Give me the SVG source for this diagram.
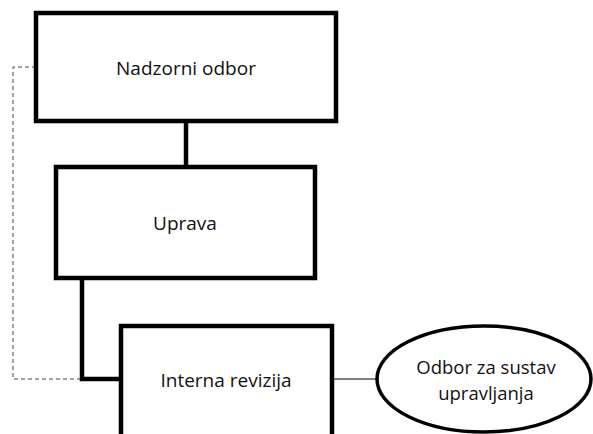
<svg xmlns="http://www.w3.org/2000/svg" width="593" height="434" viewBox="0 0 593 434">
<style>
.box{fill:#fff;stroke:#000;stroke-width:4.5}
.lbl{font-family:"Open Sans","Noto Sans",sans-serif;font-size:19px;fill:#111;text-anchor:middle}
.sm{font-size:18.5px}
.thick{fill:none;stroke:#000;stroke-width:4.5}
.thin{fill:none;stroke:#000;stroke-width:1}
.dash{fill:none;stroke:#444;stroke-width:1;stroke-dasharray:4 3}
</style>
<rect width="593" height="434" fill="#fff"/>
<g id="connectors">
<path class="dash" d="M36 67 H13 V379 H82"/>
<path class="thick" d="M186 121 V167"/>
<path class="thick" d="M82 278 V379 H121"/>
<path class="thin" d="M332 379 H377"/>
</g>
<g id="nadzorni">
<rect class="box" x="36" y="13" width="300" height="108"/>
<text class="lbl" x="186" y="75">Nadzorni odbor</text>
</g>
<g id="uprava">
<rect class="box" x="56" y="167" width="259" height="111"/>
<text class="lbl" x="185" y="230">Uprava</text>
</g>
<g id="interna">
<rect class="box" x="121" y="326" width="211" height="120"/>
<text class="lbl" x="226" y="387">Interna revizija</text>
</g>
<g id="odbor">
<ellipse cx="484" cy="379" rx="107" ry="53" fill="#fff" stroke="#000" stroke-width="3.5"/>
<text class="lbl sm" x="486" y="374">Odbor za sustav</text>
<text class="lbl sm" x="486" y="399.5">upravljanja</text>
</g>
</svg>
